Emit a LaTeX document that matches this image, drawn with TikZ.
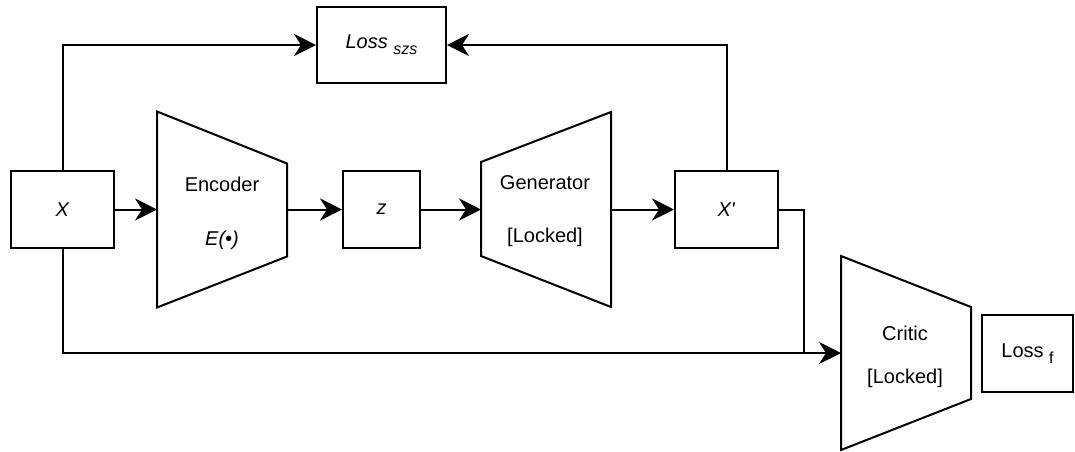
\documentclass[tikz,border=0pt]{standalone}
\usepackage{fontspec}
\setmainfont{Liberation Sans}
\usetikzlibrary{arrows.meta,calc}
\begin{document}
\begin{tikzpicture}[x=1pt,y=-1pt, line width=2pt,
  box/.style={draw, rectangle, inner sep=0pt, font=\fontsize{20}{24}\selectfont},
  hold/.style={rectangle, inner sep=0pt},
  lbl/.style={font=\fontsize{20}{24}\selectfont, inner sep=0pt, text height=14pt, text depth=4pt},
  arr/.style={-{Stealth[length=22pt,width=22pt,inset=7pt]}},
  ]
\useasboundingbox (0,0) rectangle (1075,451);

% boxes
\node[box, minimum width=103pt, minimum height=77pt] (X) at (62.5,209.5) {\textit{X}};
\node[box, minimum width=77pt, minimum height=77pt] (z) at (381.5,209.5) {\textit{z}};
\node[box, minimum width=103pt, minimum height=77pt] (Xp) at (726.5,209.5) {\textit{X\textquotesingle}};
\node[box, minimum width=129pt, minimum height=76pt] (lszs) at (381.5,45) {\textit{Loss \raisebox{-6pt}{\fontsize{16}{16}\selectfont szs}}};
\node[box, minimum width=91pt, minimum height=77pt] (lf) at (1027.5,353.5) {Loss \raisebox{-6pt}{\fontsize{16}{16}\selectfont f}};

% trapezoid holders
\node[hold, minimum width=128pt, minimum height=194pt] (enc) at (222,209.5) {};
\node[hold, minimum width=128pt, minimum height=193pt] (gen) at (546,209.5) {};
\node[hold, minimum width=128pt, minimum height=192pt] (critic) at (906,353) {};

\draw (enc.north west) -- ($(enc.north east)+(0,52)$) -- ($(enc.south east)+(0,-51)$) -- (enc.south west) -- cycle;
\draw ($(gen.north west)+(0,50)$) -- (gen.north east) -- (gen.south east) -- ($(gen.south west)+(0,-51)$) -- cycle;
\draw (critic.north west) -- ($(critic.north east)+(0,51)$) -- ($(critic.south east)+(0,-51)$) -- (critic.south west) -- cycle;

% texts
\node[lbl] (enct) at (222,186) {Encoder};
\node[lbl] (encf) at (222,240) {\textit{E(•)}};
\node[lbl] (gent) at (545,184) {Generator};
\node[lbl] (genl) at (545,237) {[Locked]};
\node[lbl] (crt) at (905,335) {Critic};
\node[lbl] (crl) at (905,378) {[Locked]};

% connectors
\coordinate (j) at (804,353);
\draw[arr] (X.east) -- (enc.west);
\draw[arr] (enc.east) -- (z.west);
\draw[arr] (z.east) -- (gen.west);
\draw[arr] (gen.east) -- (Xp.west);
\draw[arr] (X.north) |- (lszs.west);
\draw[arr] (Xp.north) |- (lszs.east);
\draw (Xp.east) -| (j);
\draw[arr] (X.south) |- (critic.west);
\end{tikzpicture}
\end{document}
